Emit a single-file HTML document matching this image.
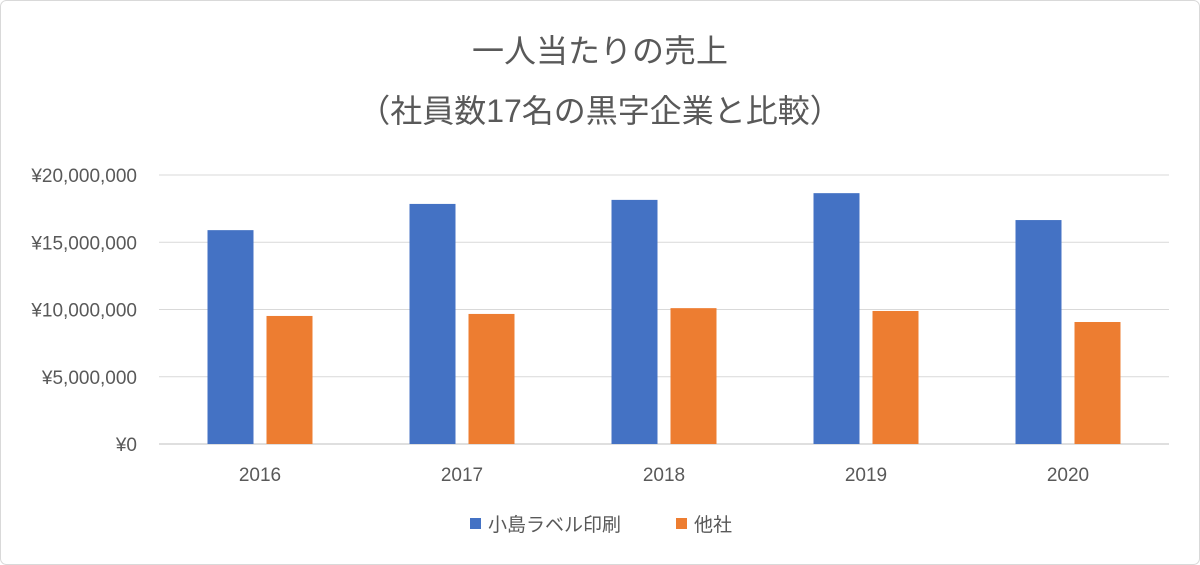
<!DOCTYPE html>
<html><head><meta charset="utf-8"><style>
body{margin:0;background:#fff;}
svg{display:block;font-family:"Liberation Sans","Noto Sans CJK JP",sans-serif;}
</style></head><body>
<svg id="chart" width="1200" height="565" viewBox="0 0 1200 565">
<rect x="0.5" y="0.5" width="1199" height="564" rx="6" fill="#fff" stroke="#d9d9d9"/>
<text x="600" y="62" text-anchor="middle" font-size="32" fill="#595959">一人当たりの売上</text>
<text x="600" y="122" text-anchor="middle" font-size="32" fill="#595959">（社員数17名の黒字企業と比較）</text>
<g id="grid"></g><g id="bars"></g><g id="labels"></g>
<g>
<rect x="470" y="518" width="11" height="11" fill="#4472c4"/>
<text x="488" y="531" font-size="19" fill="#595959">小島ラベル印刷</text>
<rect x="676" y="518" width="11" height="11" fill="#ed7d31"/>
<text x="694" y="531" font-size="19" fill="#595959">他社</text>
</g>
</svg>
<script>
const categories=["2016","2017","2018","2019","2020"];
const kojima=[15900000,17850000,18150000,18650000,16650000];
const others=[9520000,9670000,10100000,9890000,9070000];
const yTicks=[0,5000000,10000000,15000000,20000000];
const yTickLabels=["¥0","¥5,000,000","¥10,000,000","¥15,000,000","¥20,000,000"];
const NS="http://www.w3.org/2000/svg";
const plotLeft=159,plotRight=1169,plotTop=175,plotBottom=444,yMax=20000000;
function yScale(v){return plotBottom-(v/yMax)*(plotBottom-plotTop);}
const band=(plotRight-plotLeft)/categories.length;
function xScale(i){return plotLeft+band*(i+0.5);}
function mk(tag,attrs,parent){const e=document.createElementNS(NS,tag);for(const k in attrs)e.setAttribute(k,attrs[k]);document.getElementById(parent).appendChild(e);return e;}
yTicks.forEach((t,i)=>{
 const l=mk("line",{x1:plotLeft,x2:plotRight,y1:yScale(t),y2:yScale(t),stroke:i===0?"#bfbfbf":"#d9d9d9","stroke-width":1},"grid");
 
 
 const tx=mk("text",{x:137,y:yScale(t)+7,"text-anchor":"end","font-size":19,fill:"#595959"},"labels");
 tx.textContent=yTickLabels[i];
 
 
});
const bw=46,gap=13;
categories.forEach((c,i)=>{
 const cx=xScale(i);
 const b1=mk("rect",{x:cx-gap/2-bw,y:yScale(kojima[i]),width:bw,height:plotBottom-yScale(kojima[i]),fill:"#4472c4"},"bars");
 
 
 const b2=mk("rect",{x:cx+gap/2,y:yScale(others[i]),width:bw,height:plotBottom-yScale(others[i]),fill:"#ed7d31"},"bars");
 
 
 const t=mk("text",{x:cx,y:481,"text-anchor":"middle","font-size":19,fill:"#595959"},"labels");
 t.textContent=c;
 
 
});
</script>
</body></html>
